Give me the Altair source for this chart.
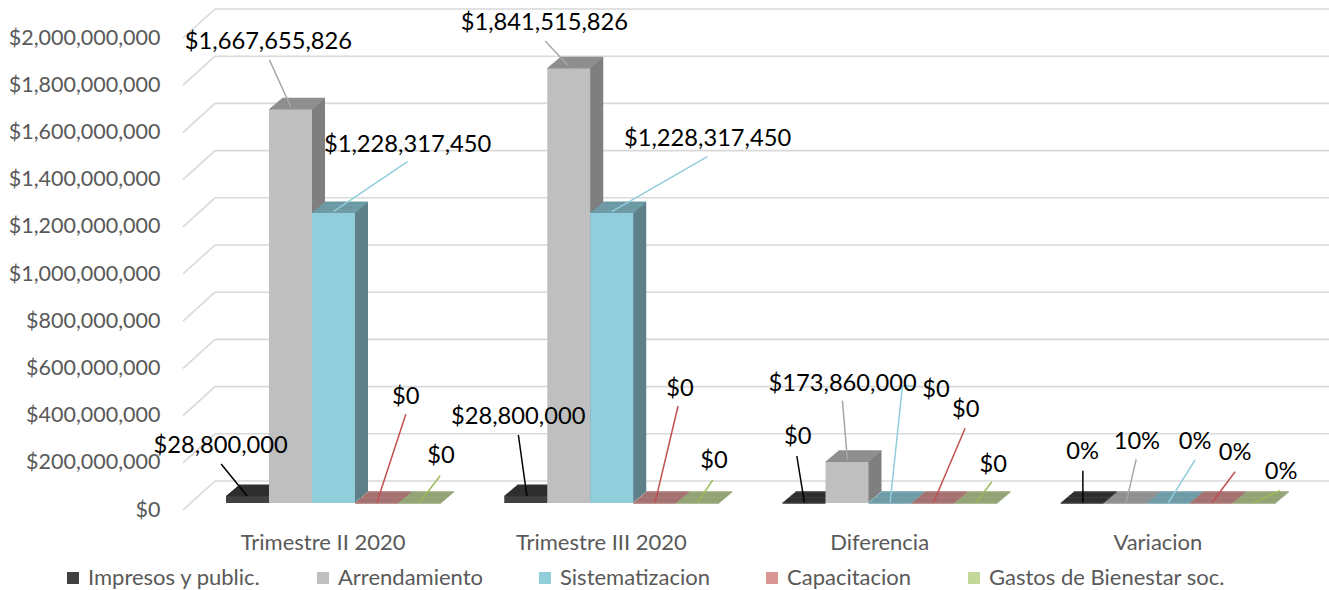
import altair as alt
import pandas as pd

# ---------------- data ----------------
categories = ["Trimestre II 2020", "Trimestre III 2020", "Diferencia", "Variacion"]
series = ["Impresos y public.", "Arrendamiento", "Sistematizacion", "Capacitacion",
          "Gastos de Bienestar soc."]
impresos = [28800000, 28800000, 0, 0]
arrendamiento = [1667655826, 1841515826, 173860000, 0.10]
sistematizacion = [1228317450, 1228317450, 0, 0]
capacitacion = [0, 0, 0, 0]
gastos = [0, 0, 0, 0]
y_ticks = [0, 200000000, 400000000, 600000000, 800000000, 1000000000,
           1200000000, 1400000000, 1600000000, 1800000000, 2000000000]
percent_category = "Variacion"

# ---------------- style ----------------
front_colors = ["#404040", "#BFBFBF", "#92CDDC", "#DA9694", "#C4D79B"]
top_colors = ["#2F2F2F", "#8F8F8F", "#6E9BA6", "#A47170", "#93A375"]
side_colors = ["#262626", "#7F7F7F", "#5E8189", "#8C5F5E", "#7E8B5F"]
leader_colors = ["#000000", "#A6A6A6", "#92CDDC", "#C0504D", "#9BBB59"]
FONT = "Lato"
DEPTH_X = 13
DEPTH_Y = 11
OFF0, OFF1 = 42, 257  # bar group span inside each category band (px)

# label position (dx, dy from band centre / value) and leader segments
label_pos = {
    (0, 0): (-102.5, -43), (0, 1): (-54.7, -60), (0, 2): (84.5, -61.4),
    (0, 3): (82.5, -99), (0, 4): (117.8, -39.7),
    (1, 0): (-83.2, -72), (1, 1): (-57, -38.4), (1, 2): (106.2, -67.4),
    (1, 3): (78.7, -107), (1, 4): (112.7, -34.7),
    (2, 0): (-82, -59), (2, 1): (-37, -71.3), (2, 2): (56.3, -106.3),
    (2, 3): (86, -85.7), (2, 4): (113.5, -31.3),
    (3, 0): (-75.2, -43.7), (3, 1): (-21, -53.7), (3, 2): (37.2, -53.7),
    (3, 3): (77.2, -43), (3, 4): (123.2, -23.7),
}
leaders = {
    (0, 0): [(-76, -0.2, -102, -32.2)], (0, 1): [(-32.3, -2.7, -53.7, -49.4)],
    (0, 2): [(10.3, -1.4, 84.3, -51.4)], (0, 3): [(53.7, -0.3, 82.7, -88.7)],
    (0, 4): [(96.3, -0.3, 117, -27.3)],
    (1, 0): [(-74.5, -0.2, -83, -61.2)], (1, 1): [(-33, -2.7, -56.2, -27.4)],
    (1, 2): [(10.4, -1.4, 106, -56.4)], (1, 3): [(53.7, -0.3, 76.7, -97)],
    (1, 4): [(96, -0.3, 111.4, -23)],
    (2, 0): [(-75.2, -0.3, -82.8, -47)], (2, 1): [(-32.2, -2, -37.2, -61.3)],
    (2, 2): [(10.5, -0.3, 22.8, -117), (22.8, -117, 33.8, -117)],
    (2, 3): [(53.8, -0.3, 85.5, -74.7)], (2, 4): [(96.5, -0.3, 112.2, -21.3)],
    (3, 0): [(-75, -0.3, -75, -32.3)], (3, 1): [(-31.7, -0.3, -21.7, -43.7)],
    (3, 2): [(10.5, -0.3, 37.2, -43)], (3, 3): [(54, -0.3, 77.2, -31.3)],
    (3, 4): [(95.5, -0.3, 122.2, -12.3)],
}

values = [impresos, arrendamiento, sistematizacion, capacitacion, gastos]
rows = []
for ci, cat in enumerate(categories):
    for si, s in enumerate(series):
        v = values[si][ci]
        lab = f"{v:.0%}" if cat == percent_category else f"${v:,.0f}"
        rows.append(dict(cat=cat, series=s, value=v, label=lab, ci=ci, si=si,
                         top=top_colors[si], side=side_colors[si]))
df = pd.DataFrame(rows)
grid_df = pd.DataFrame({"value": y_ticks})

W, H = 1113, 472
PAD_L, PAD_T = 184, 31

x_enc = alt.X("cat:N", sort=categories,
              scale=alt.Scale(paddingInner=0, paddingOuter=0),
              axis=alt.Axis(title=None, domain=False, ticks=False, labelAngle=0,
                            labelFont=FONT, labelFontSize=22, labelColor="#595959",
                            labelPadding=29))
y_enc = alt.Y("value:Q", scale=alt.Scale(domain=[0, 2000000000], nice=False, zero=True),
              axis=alt.Axis(title=None, domain=False, ticks=False, grid=False,
                            values=y_ticks, format="$,.0f", labelFont=FONT,
                            labelFontSize=21.5, labelColor="#595959", labelPadding=24,
                            labelOffset=7))


def xoff(k):
    return alt.XOffset("series:N", sort=series,
                       scale=alt.Scale(domain=series, range=[OFF0 + k, OFF1 + k],
                                       paddingInner=0, paddingOuter=0))


base = alt.Chart(df)
layers = []

# back-wall gridlines and left-wall diagonals
grid = alt.Chart(grid_df)
layers.append(grid.mark_rule(color="#D9D9D9", strokeWidth=1.6, yOffset=-22).encode(
    y=y_enc, x=alt.value(31), x2=alt.value(1145)))
layers.append(grid.mark_rule(color="#D9D9D9", strokeWidth=1.6, yOffset=7, y2Offset=-22).encode(
    y=y_enc, y2="value", x=alt.value(-1), x2=alt.value(31)))

# side faces (extrusion)
for k in range(1, DEPTH_X + 1):
    dy = -k * DEPTH_Y / DEPTH_X
    layers.append(base.mark_bar(yOffset=dy, y2Offset=dy).encode(
        x=x_enc, xOffset=xoff(k), y=y_enc, y2=alt.datum(0),
        color=alt.Color("side:N", scale=None)))
# top faces
for k in range(0, DEPTH_X + 1):
    dy = -k * DEPTH_Y / DEPTH_X
    layers.append(base.mark_bar(yOffset=dy, y2Offset=dy, strokeWidth=1.3).encode(
        x=x_enc, xOffset=xoff(k), y=y_enc, y2="value",
        color=alt.Color("top:N", scale=None), stroke=alt.Stroke("top:N", scale=None)))
# front faces
layers.append(base.mark_bar().encode(
    x=x_enc, xOffset=xoff(0), y=y_enc,
    color=alt.Color("series:N", sort=series,
                    scale=alt.Scale(domain=series, range=front_colors),
                    legend=alt.Legend(orient="none", legendX=-122, legendY=536,
                                      direction="horizontal", columns=5, title=None,
                                      padding=0, labelLimit=0,
                                      symbolType="square", symbolSize=144,
                                      symbolStrokeWidth=0, labelFont=FONT,
                                      labelFontSize=22, labelColor="#595959",
                                      labelOffset=4, columnPadding=51))))

# leader lines
for (ci, si), segs in leaders.items():
    for (x1, y1, x2, y2) in segs:
        layers.append(base.transform_filter(f"datum.ci == {ci} && datum.si == {si}")
                      .mark_rule(xOffset=x1, yOffset=y1, x2Offset=x2, y2Offset=y2,
                                 color=leader_colors[si], strokeWidth=1.5)
                      .encode(x=x_enc, x2="cat", y=y_enc, y2="value"))
# data labels
for (ci, si), (dx, dy) in label_pos.items():
    layers.append(base.transform_filter(f"datum.ci == {ci} && datum.si == {si}")
                  .mark_text(dx=dx, dy=dy, align="center", baseline="alphabetic",
                             font=FONT, fontSize=23.7, color="#000000")
                  .encode(x=x_enc, y=y_enc, text="label:N"))

chart = alt.layer(*layers).resolve_scale(
    xOffset="independent", color="independent", stroke="independent"
).properties(
    width=W, height=H, background="white",
    padding={"left": PAD_L, "top": PAD_T, "right": 1329 - PAD_L - W, "bottom": 590 - PAD_T - H},
    autosize=alt.AutoSizeParams(type="none"),
).configure_view(stroke=None)

chart.save("out.html", embed_options={"renderer": "svg", "actions": False})
